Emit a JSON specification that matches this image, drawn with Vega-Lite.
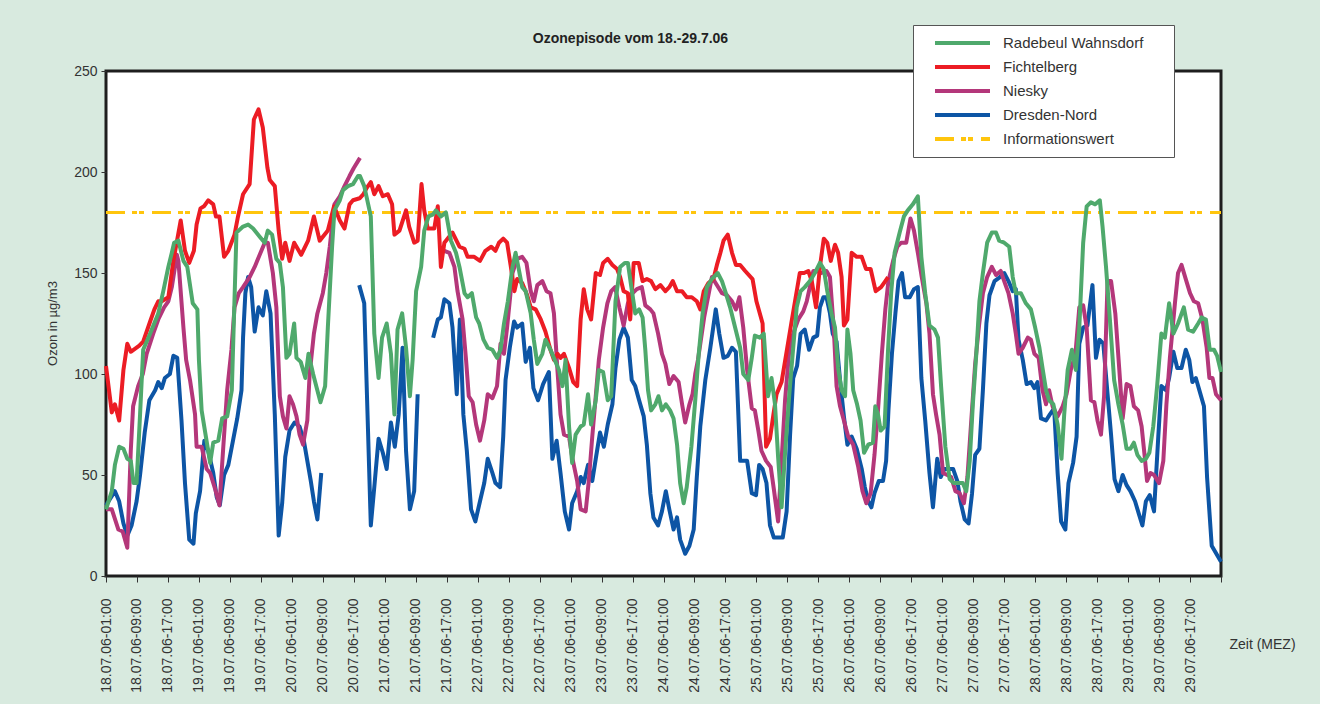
{
  "$schema": "https://vega.github.io/schema/vega-lite/v6.json",
  "width": 1115,
  "height": 505,
  "autosize": {"type": "none"},
  "padding": {"left": 106, "top": 71, "right": 99, "bottom": 128},
  "background": "#d8eadf",
  "config": {
    "font": "Liberation Sans",
    "view": {"fill": "white", "stroke": "#1e1e1e", "strokeWidth": 3}
  },
  "title": {
    "text": "Ozonepisode vom 18.-29.7.06",
    "frame": "group",
    "anchor": "middle",
    "dx": -33,
    "dy": 46,
    "offset": 25,
    "fontSize": 14,
    "fontWeight": "bold",
    "color": "#222222"
  },
  "datasets": {
    "infowert": [{"h": 0, "v": 180}, {"h": 288, "v": 180}],
    "radebeul": [
      {"h":0,"v":33},{"h":1.5,"v":42},{"h":2.3,"v":55},{"h":3.4,"v":64},{"h":4.5,"v":63},{"h":5.5,"v":58},{"h":6.4,"v":57},{"h":7.1,"v":46},{"h":7.9,"v":46},{"h":8.8,"v":80},{"h":9.6,"v":112},{"h":11.4,"v":120},{"h":13.5,"v":130},{"h":14.8,"v":141},{"h":16.1,"v":153},{"h":17,"v":160},{"h":17.6,"v":165},{"h":18.7,"v":166},{"h":20,"v":156},{"h":21,"v":153},{"h":22.4,"v":135},{"h":23.6,"v":132},{"h":24,"v":107},{"h":24.7,"v":82},{"h":25.8,"v":69},{"h":26.9,"v":56},{"h":27.7,"v":66},{"h":29,"v":67},{"h":30,"v":78},{"h":31.3,"v":79},{"h":32.5,"v":92},{"h":33.7,"v":170},{"h":35.4,"v":173},{"h":36.7,"v":174},{"h":38,"v":172},{"h":39.7,"v":168},{"h":41,"v":165},{"h":41.8,"v":171},{"h":42.9,"v":169},{"h":44,"v":157},{"h":44.9,"v":155},{"h":45.7,"v":143},{"h":46.6,"v":108},{"h":47.4,"v":110},{"h":48.6,"v":125},{"h":49.2,"v":108},{"h":50.3,"v":106},{"h":51.5,"v":98},{"h":52.3,"v":110},{"h":53.5,"v":100},{"h":54.3,"v":94},{"h":55.4,"v":86},{"h":56.6,"v":94},{"h":57.3,"v":123},{"h":58.4,"v":163},{"h":59,"v":181},{"h":60.4,"v":186},{"h":61.2,"v":191},{"h":62.5,"v":193},{"h":63.8,"v":194},{"h":65.1,"v":198},{"h":65.6,"v":198},{"h":66.7,"v":193},{"h":68.4,"v":178},{"h":69.3,"v":120},{"h":70.4,"v":98},{"h":71.3,"v":118},{"h":72.5,"v":125},{"h":73.6,"v":110},{"h":74.5,"v":80},{"h":75.3,"v":122},{"h":76.5,"v":130},{"h":77.5,"v":113},{"h":78.5,"v":89},{"h":79.2,"v":107},{"h":80.1,"v":141},{"h":81.4,"v":153},{"h":82.2,"v":171},{"h":83.3,"v":178},{"h":84.5,"v":179},{"h":85.2,"v":181},{"h":86.5,"v":178},{"h":87.8,"v":180},{"h":89.1,"v":166},{"h":90.4,"v":160},{"h":91.3,"v":153},{"h":92.6,"v":140},{"h":93.4,"v":138},{"h":94.5,"v":140},{"h":95.6,"v":128},{"h":96.4,"v":125},{"h":97.5,"v":117},{"h":98.6,"v":113},{"h":99.8,"v":112},{"h":101,"v":108},{"h":101.9,"v":112},{"h":102.8,"v":125},{"h":103.8,"v":136},{"h":105,"v":153},{"h":105.8,"v":160},{"h":106.7,"v":151},{"h":107.5,"v":143},{"h":108.4,"v":141},{"h":109.7,"v":130},{"h":110.5,"v":117},{"h":111.4,"v":105},{"h":112.7,"v":110},{"h":113.5,"v":117},{"h":114.8,"v":112},{"h":115.9,"v":107},{"h":117,"v":102},{"h":117.9,"v":94},{"h":118.7,"v":107},{"h":119.6,"v":74},{"h":120.4,"v":56},{"h":121.3,"v":70},{"h":122.6,"v":74},{"h":123.4,"v":75},{"h":124.5,"v":90},{"h":125.3,"v":75},{"h":126.5,"v":87},{"h":127.3,"v":102},{"h":128.4,"v":101},{"h":129.6,"v":87},{"h":130.5,"v":89},{"h":131.6,"v":136},{"h":132.8,"v":153},{"h":134,"v":155},{"h":134.8,"v":155},{"h":135.7,"v":143},{"h":136.7,"v":130},{"h":137.7,"v":132},{"h":138.6,"v":128},{"h":139.3,"v":112},{"h":140,"v":92},{"h":140.8,"v":82},{"h":141.9,"v":85},{"h":142.7,"v":89},{"h":143.6,"v":82},{"h":144.6,"v":85},{"h":145.7,"v":82},{"h":146.6,"v":78},{"h":147.5,"v":65},{"h":148.3,"v":46},{"h":149.2,"v":36},{"h":150,"v":44},{"h":151.2,"v":64},{"h":152.2,"v":87},{"h":153.1,"v":110},{"h":154.1,"v":130},{"h":155.2,"v":143},{"h":156.5,"v":147},{"h":158,"v":150},{"h":159.1,"v":146},{"h":160.1,"v":140},{"h":161.2,"v":133},{"h":162.5,"v":123},{"h":163.8,"v":113},{"h":164.6,"v":100},{"h":165.9,"v":97},{"h":166.8,"v":108},{"h":167.6,"v":119},{"h":168.9,"v":118},{"h":169.9,"v":120},{"h":171,"v":89},{"h":171.9,"v":98},{"h":172.8,"v":85},{"h":173.6,"v":59},{"h":174.5,"v":34},{"h":175.4,"v":61},{"h":176.5,"v":90},{"h":177.5,"v":113},{"h":178.4,"v":133},{"h":179.4,"v":141},{"h":180.5,"v":143},{"h":181.8,"v":146},{"h":183.1,"v":150},{"h":184.4,"v":155},{"h":185.4,"v":152},{"h":186.3,"v":141},{"h":187.4,"v":130},{"h":188.3,"v":123},{"h":189.1,"v":103},{"h":190,"v":92},{"h":190.9,"v":89},{"h":191.5,"v":122},{"h":192.3,"v":110},{"h":193,"v":92},{"h":194,"v":85},{"h":194.9,"v":77},{"h":195.8,"v":61},{"h":196.9,"v":65},{"h":198.1,"v":66},{"h":198.7,"v":84},{"h":199.4,"v":80},{"h":200.1,"v":72},{"h":201.1,"v":74},{"h":202,"v":112},{"h":202.8,"v":140},{"h":203.7,"v":160},{"h":205,"v":170},{"h":206.1,"v":178},{"h":207.1,"v":181},{"h":208.4,"v":184},{"h":209.7,"v":188},{"h":210.6,"v":158},{"h":211.6,"v":140},{"h":212.7,"v":124},{"h":214,"v":122},{"h":214.9,"v":118},{"h":215.7,"v":94},{"h":216.8,"v":64},{"h":217.9,"v":48},{"h":219,"v":46},{"h":220,"v":46},{"h":221.3,"v":46},{"h":222.2,"v":42},{"h":223.1,"v":57},{"h":223.9,"v":85},{"h":224.8,"v":110},{"h":225.6,"v":136},{"h":226.5,"v":150},{"h":227.6,"v":165},{"h":228.8,"v":170},{"h":229.9,"v":170},{"h":230.7,"v":166},{"h":232,"v":165},{"h":233.3,"v":163},{"h":234.2,"v":148},{"h":235,"v":140},{"h":236.3,"v":140},{"h":237.6,"v":135},{"h":238.9,"v":132},{"h":240,"v":123},{"h":241.1,"v":113},{"h":241.9,"v":103},{"h":242.8,"v":92},{"h":243.6,"v":87},{"h":244.7,"v":85},{"h":245.8,"v":75},{"h":246.8,"v":58},{"h":247.5,"v":80},{"h":248.4,"v":102},{"h":249.5,"v":112},{"h":250.5,"v":102},{"h":251.4,"v":123},{"h":252.4,"v":165},{"h":253.3,"v":183},{"h":254.4,"v":185},{"h":255.5,"v":184},{"h":256.7,"v":186},{"h":257.4,"v":173},{"h":258.3,"v":153},{"h":259.3,"v":127},{"h":260.4,"v":97},{"h":261.5,"v":85},{"h":262.6,"v":75},{"h":263.6,"v":63},{"h":264.6,"v":63},{"h":265.5,"v":66},{"h":266.4,"v":60},{"h":267.5,"v":57},{"h":268.6,"v":58},{"h":269.5,"v":61},{"h":270.5,"v":74},{"h":271.5,"v":94},{"h":272.6,"v":120},{"h":273.5,"v":118},{"h":274.6,"v":135},{"h":275.7,"v":120},{"h":276.9,"v":125},{"h":278.4,"v":133},{"h":279.5,"v":122},{"h":280.8,"v":121},{"h":282.1,"v":125},{"h":283,"v":128},{"h":284.1,"v":127},{"h":285.1,"v":112},{"h":286.2,"v":112},{"h":287,"v":109},{"h":288,"v":101}
    ],
    "fichtelberg": [
      {"h":0,"v":104},{"h":1.5,"v":81},{"h":2.3,"v":85},{"h":3.4,"v":77},{"h":4.5,"v":102},{"h":5.5,"v":115},{"h":6.4,"v":111},{"h":8.6,"v":114},{"h":9.6,"v":116},{"h":11.4,"v":126},{"h":12.5,"v":132},{"h":13.5,"v":136},{"h":14.4,"v":136},{"h":16.1,"v":138},{"h":17.4,"v":156},{"h":19.3,"v":176},{"h":20.4,"v":161},{"h":21.5,"v":155},{"h":22.7,"v":161},{"h":23.4,"v":174},{"h":24.4,"v":182},{"h":25.3,"v":183},{"h":26.4,"v":186},{"h":27.7,"v":184},{"h":28.4,"v":178},{"h":29.3,"v":178},{"h":30.5,"v":158},{"h":31.6,"v":161},{"h":33.2,"v":169},{"h":34.1,"v":178},{"h":35.4,"v":189},{"h":37.1,"v":194},{"h":38.2,"v":226},{"h":39.4,"v":231},{"h":40.5,"v":222},{"h":41.7,"v":202},{"h":42.3,"v":196},{"h":43.6,"v":193},{"h":44.6,"v":171},{"h":45.5,"v":157},{"h":46.3,"v":165},{"h":47.4,"v":156},{"h":48.6,"v":165},{"h":50.4,"v":159},{"h":52.2,"v":166},{"h":53.7,"v":178},{"h":55.2,"v":166},{"h":57.3,"v":171},{"h":58.9,"v":183},{"h":60.4,"v":176},{"h":61.6,"v":172},{"h":62.9,"v":184},{"h":63.8,"v":186},{"h":65.5,"v":187},{"h":66.5,"v":189},{"h":67.3,"v":192},{"h":68.4,"v":195},{"h":69.3,"v":189},{"h":70.4,"v":193},{"h":71.5,"v":188},{"h":72.8,"v":189},{"h":73.9,"v":184},{"h":74.5,"v":169},{"h":75.8,"v":171},{"h":77.5,"v":181},{"h":78.3,"v":173},{"h":79.6,"v":165},{"h":80.5,"v":166},{"h":81.5,"v":194},{"h":82.2,"v":181},{"h":83.1,"v":172},{"h":84.8,"v":172},{"h":85.7,"v":183},{"h":86.5,"v":153},{"h":87.4,"v":165},{"h":89.5,"v":170},{"h":91.3,"v":163},{"h":92.6,"v":162},{"h":93.4,"v":158},{"h":95.1,"v":158},{"h":96.6,"v":156},{"h":98,"v":161},{"h":99.5,"v":163},{"h":100.6,"v":161},{"h":101.5,"v":165},{"h":102.6,"v":167},{"h":103.6,"v":165},{"h":104.5,"v":154},{"h":105.5,"v":141},{"h":106.2,"v":147},{"h":107.5,"v":145},{"h":108.8,"v":139},{"h":109.7,"v":133},{"h":111,"v":132},{"h":112.3,"v":127},{"h":113.5,"v":121},{"h":114.8,"v":112},{"h":115.7,"v":107},{"h":116.6,"v":110},{"h":117.4,"v":108},{"h":118.3,"v":110},{"h":119.6,"v":103},{"h":120.7,"v":96},{"h":121.7,"v":94},{"h":122.6,"v":127},{"h":123.4,"v":142},{"h":124.3,"v":132},{"h":125.3,"v":127},{"h":126.5,"v":150},{"h":127.6,"v":149},{"h":128.4,"v":155},{"h":129.6,"v":157},{"h":130.8,"v":154},{"h":132,"v":152},{"h":132.8,"v":148},{"h":133.7,"v":141},{"h":134.8,"v":140},{"h":135.4,"v":127},{"h":136.3,"v":155},{"h":137.6,"v":155},{"h":138.6,"v":146},{"h":139.7,"v":147},{"h":140.8,"v":146},{"h":141.9,"v":142},{"h":143.2,"v":144},{"h":144.5,"v":141},{"h":145.5,"v":143},{"h":146.4,"v":146},{"h":147.5,"v":141},{"h":148.8,"v":141},{"h":150,"v":138},{"h":151.3,"v":138},{"h":152.6,"v":136},{"h":153.5,"v":132},{"h":154.4,"v":141},{"h":155.6,"v":145},{"h":156.9,"v":147},{"h":157.8,"v":154},{"h":158.7,"v":160},{"h":159.5,"v":166},{"h":160.6,"v":169},{"h":161.7,"v":160},{"h":162.7,"v":154},{"h":163.8,"v":154},{"h":165.1,"v":151},{"h":167,"v":147},{"h":168,"v":136},{"h":169.6,"v":125},{"h":170.5,"v":64},{"h":171.5,"v":68},{"h":172.4,"v":80},{"h":173.2,"v":90},{"h":174.5,"v":96},{"h":177,"v":125},{"h":179.2,"v":150},{"h":180.3,"v":150},{"h":181.4,"v":151},{"h":182.3,"v":146},{"h":183.4,"v":133},{"h":184.4,"v":153},{"h":185.4,"v":167},{"h":186.3,"v":165},{"h":187.2,"v":156},{"h":188.3,"v":164},{"h":189.1,"v":160},{"h":190,"v":148},{"h":190.6,"v":124},{"h":191.5,"v":127},{"h":192.6,"v":160},{"h":193.9,"v":158},{"h":195.2,"v":158},{"h":196.3,"v":152},{"h":197.5,"v":152},{"h":198.8,"v":141},{"h":200.2,"v":143},{"h":201.3,"v":146},{"h":202,"v":148}
    ],
    "niesky": [
      {"h":0,"v":33},{"h":1.5,"v":33},{"h":3.2,"v":23},{"h":4.3,"v":22},{"h":5.5,"v":14},{"h":6.4,"v":62},{"h":7,"v":84},{"h":8.3,"v":94},{"h":9.5,"v":100},{"h":10.5,"v":110},{"h":12.2,"v":120},{"h":13.5,"v":127},{"h":15,"v":133},{"h":16.1,"v":136},{"h":17,"v":143},{"h":18.3,"v":159},{"h":18.7,"v":156},{"h":20,"v":123},{"h":20.7,"v":107},{"h":21.7,"v":97},{"h":23,"v":80},{"h":23.4,"v":64},{"h":24.7,"v":64},{"h":26,"v":53},{"h":26.9,"v":51},{"h":28.2,"v":43},{"h":29.3,"v":35},{"h":30.3,"v":64},{"h":31.3,"v":92},{"h":32.4,"v":112},{"h":33.2,"v":133},{"h":34.3,"v":140},{"h":35.4,"v":143},{"h":37.1,"v":148},{"h":38.4,"v":153},{"h":39.7,"v":159},{"h":41,"v":165},{"h":41.8,"v":165},{"h":43.1,"v":150},{"h":44,"v":133},{"h":44.9,"v":89},{"h":45.7,"v":79},{"h":46.6,"v":73},{"h":47.4,"v":89},{"h":48.3,"v":85},{"h":49.2,"v":79},{"h":50,"v":70},{"h":50.9,"v":65},{"h":52,"v":77},{"h":52.6,"v":100},{"h":53.7,"v":120},{"h":54.6,"v":130},{"h":56,"v":140},{"h":56.9,"v":150},{"h":57.8,"v":163},{"h":59,"v":184},{"h":60.4,"v":188},{"h":61.6,"v":193},{"h":62.9,"v":198},{"h":64,"v":202},{"h":65.6,"v":207},
      {"h":66,"v":null},
      {"h":87.4,"v":161},{"h":88.7,"v":160},{"h":90,"v":153},{"h":90.8,"v":141},{"h":92.1,"v":127},{"h":93,"v":107},{"h":93.7,"v":89},{"h":94.7,"v":86},{"h":95.6,"v":75},{"h":96.6,"v":67},{"h":97.7,"v":77},{"h":98.6,"v":90},{"h":99.8,"v":88},{"h":101,"v":94},{"h":101.9,"v":115},{"h":102.8,"v":110},{"h":103.6,"v":123},{"h":105,"v":150},{"h":106.2,"v":157},{"h":107.5,"v":158},{"h":108.6,"v":155},{"h":109.7,"v":141},{"h":110.5,"v":136},{"h":111.4,"v":144},{"h":112.7,"v":146},{"h":113.8,"v":141},{"h":114.8,"v":140},{"h":115.7,"v":130},{"h":116.6,"v":102},{"h":117.4,"v":80},{"h":118.3,"v":70},{"h":119.6,"v":69},{"h":120.4,"v":59},{"h":121.7,"v":47},{"h":122.6,"v":33},{"h":123.9,"v":32},{"h":124.7,"v":47},{"h":125.6,"v":69},{"h":126.5,"v":89},{"h":127.3,"v":107},{"h":128.4,"v":123},{"h":129.5,"v":135},{"h":130.5,"v":141},{"h":131.5,"v":143},{"h":132.6,"v":133},{"h":133.7,"v":124},{"h":134.8,"v":135},{"h":136,"v":140},{"h":137.1,"v":142},{"h":138.4,"v":143},{"h":139.3,"v":134},{"h":140.6,"v":132},{"h":141.4,"v":130},{"h":142.6,"v":120},{"h":143.6,"v":110},{"h":144.5,"v":105},{"h":145.5,"v":95},{"h":146.6,"v":99},{"h":147.9,"v":96},{"h":148.8,"v":85},{"h":149.6,"v":76},{"h":150.7,"v":85},{"h":151.5,"v":90},{"h":152.2,"v":100},{"h":152.9,"v":107},{"h":154.5,"v":128},{"h":156.5,"v":148},{"h":159.1,"v":140},{"h":160.4,"v":139},{"h":161.7,"v":136},{"h":162.7,"v":132},{"h":163.6,"v":138},{"h":164.6,"v":123},{"h":165.6,"v":102},{"h":166.8,"v":83},{"h":167.6,"v":82},{"h":168.5,"v":72},{"h":169.3,"v":62},{"h":170.5,"v":57},{"h":171.7,"v":54},{"h":172.5,"v":43},{"h":173.6,"v":27},{"h":174.5,"v":57},{"h":175.4,"v":87},{"h":176.5,"v":112},{"h":177.5,"v":120},{"h":178.8,"v":127},{"h":180.1,"v":131},{"h":181,"v":136},{"h":181.8,"v":143},{"h":182.7,"v":151},{"h":183.7,"v":151},{"h":184.8,"v":150},{"h":186.1,"v":151},{"h":187,"v":148},{"h":188,"v":122},{"h":188.7,"v":94},{"h":189.6,"v":84},{"h":190.6,"v":77},{"h":191.7,"v":69},{"h":193,"v":65},{"h":194.3,"v":54},{"h":195.4,"v":42},{"h":196.4,"v":36},{"h":197.5,"v":41},{"h":198.5,"v":60},{"h":199.4,"v":82},{"h":200.4,"v":110},{"h":201.3,"v":132},{"h":202.1,"v":146},{"h":203.3,"v":156},{"h":204.4,"v":163},{"h":205.4,"v":165},{"h":206.7,"v":165},{"h":207.8,"v":177},{"h":208.7,"v":171},{"h":209.7,"v":160},{"h":210.7,"v":148},{"h":211.9,"v":135},{"h":212.7,"v":120},{"h":213.6,"v":90},{"h":214.4,"v":80},{"h":215.3,"v":70},{"h":216.2,"v":51},{"h":217.3,"v":50},{"h":218.3,"v":49},{"h":219.4,"v":42},{"h":220.5,"v":41},{"h":221.6,"v":36},{"h":222.5,"v":49},{"h":223.5,"v":77},{"h":224.5,"v":105},{"h":225.5,"v":124},{"h":226.5,"v":140},{"h":227.6,"v":148},{"h":228.8,"v":153},{"h":229.9,"v":149},{"h":231.1,"v":151},{"h":232,"v":146},{"h":233.1,"v":140},{"h":234.2,"v":130},{"h":235,"v":120},{"h":235.7,"v":110},{"h":236.8,"v":113},{"h":238.1,"v":118},{"h":238.9,"v":117},{"h":239.8,"v":110},{"h":240.9,"v":108},{"h":241.9,"v":92},{"h":242.8,"v":85},{"h":243.6,"v":92},{"h":244.5,"v":84},{"h":245.8,"v":79},{"h":247.1,"v":84},{"h":248.1,"v":90},{"h":249.2,"v":102},{"h":250.4,"v":110},{"h":251.4,"v":133},{"h":252.4,"v":134},{"h":253.3,"v":123},{"h":254.4,"v":87},{"h":255.3,"v":86},{"h":256.1,"v":77},{"h":257,"v":70},{"h":257.8,"v":89},{"h":258.7,"v":146},{"h":259.6,"v":146},{"h":260.7,"v":130},{"h":261.7,"v":103},{"h":262.6,"v":78},{"h":263.6,"v":95},{"h":264.6,"v":94},{"h":265.5,"v":84},{"h":266.6,"v":82},{"h":267.5,"v":74},{"h":268.3,"v":59},{"h":268.9,"v":47},{"h":269.8,"v":51},{"h":270.7,"v":50},{"h":272,"v":46},{"h":273.1,"v":57},{"h":273.9,"v":85},{"h":274.8,"v":108},{"h":276.1,"v":135},{"h":276.9,"v":150},{"h":277.8,"v":154},{"h":278.9,"v":147},{"h":280,"v":140},{"h":281,"v":136},{"h":282.1,"v":135},{"h":283.2,"v":127},{"h":284.3,"v":113},{"h":285,"v":98},{"h":285.8,"v":98},{"h":286.7,"v":90},{"h":288,"v":87}
    ],
    "dresden": [
      {"h":0,"v":35},{"h":1,"v":38},{"h":2.3,"v":42},{"h":3.4,"v":37},{"h":4.5,"v":26},{"h":5.5,"v":20},{"h":6.6,"v":25},{"h":7.9,"v":37},{"h":8.8,"v":50},{"h":10,"v":71},{"h":11.2,"v":87},{"h":12.7,"v":92},{"h":13.5,"v":96},{"h":14.4,"v":93},{"h":15.2,"v":98},{"h":16.5,"v":100},{"h":17.4,"v":109},{"h":18.4,"v":108},{"h":19.5,"v":77},{"h":20.4,"v":46},{"h":21.5,"v":18},{"h":22.6,"v":16},{"h":23.2,"v":31},{"h":24.3,"v":42},{"h":25.4,"v":67},{"h":26.4,"v":62},{"h":27.7,"v":51},{"h":28.6,"v":39},{"h":29.4,"v":35},{"h":30.5,"v":50},{"h":31.6,"v":55},{"h":32.8,"v":67},{"h":33.9,"v":78},{"h":35,"v":92},{"h":35.4,"v":118},{"h":36,"v":140},{"h":36.7,"v":148},{"h":37.5,"v":143},{"h":38.4,"v":121},{"h":39.4,"v":133},{"h":40.5,"v":129},{"h":41.4,"v":141},{"h":42.5,"v":130},{"h":43.6,"v":80},{"h":44.6,"v":20},{"h":45.5,"v":36},{"h":46.3,"v":59},{"h":47.4,"v":72},{"h":48.7,"v":76},{"h":50,"v":74},{"h":51.1,"v":67},{"h":52,"v":57},{"h":52.9,"v":47},{"h":53.7,"v":37},{"h":54.6,"v":28},{"h":55.6,"v":51},
      {"h":56.5,"v":null},
      {"h":65.4,"v":144},{"h":66.7,"v":135},{"h":67.6,"v":77},{"h":68.4,"v":25},{"h":69.3,"v":44},{"h":70.4,"v":68},{"h":71.5,"v":61},{"h":72.5,"v":53},{"h":73.6,"v":76},{"h":74.6,"v":64},{"h":75.6,"v":80},{"h":76.6,"v":113},{"h":77.5,"v":62},{"h":78.5,"v":33},{"h":79.6,"v":42},{"h":80.5,"v":90},
      {"h":82.5,"v":null},
      {"h":84.5,"v":118},{"h":85.7,"v":127},{"h":86.5,"v":128},{"h":87.4,"v":137},{"h":88.7,"v":135},{"h":89.5,"v":123},{"h":90.6,"v":90},{"h":91.4,"v":127},{"h":92.3,"v":80},{"h":93.2,"v":62},{"h":94.3,"v":33},{"h":95.4,"v":27},{"h":96.6,"v":37},{"h":97.7,"v":46},{"h":98.6,"v":58},{"h":99.8,"v":51},{"h":100.6,"v":46},{"h":101.8,"v":44},{"h":102.6,"v":69},{"h":103.2,"v":97},{"h":104.3,"v":113},{"h":105.4,"v":126},{"h":106.2,"v":123},{"h":107.5,"v":125},{"h":108.4,"v":106},{"h":109.5,"v":113},{"h":110.4,"v":93},{"h":111.6,"v":87},{"h":112.9,"v":95},{"h":114.4,"v":101},{"h":115.3,"v":58},{"h":116.4,"v":67},{"h":117.4,"v":51},{"h":118.5,"v":32},{"h":119.6,"v":23},{"h":120.4,"v":36},{"h":121.7,"v":42},{"h":122.6,"v":49},{"h":123.4,"v":46},{"h":124.5,"v":55},{"h":125.6,"v":47},{"h":126.5,"v":58},{"h":127.6,"v":71},{"h":128.6,"v":64},{"h":129.6,"v":75},{"h":130.8,"v":85},{"h":131.6,"v":103},{"h":132.6,"v":117},{"h":133.7,"v":123},{"h":134.8,"v":118},{"h":135.8,"v":97},{"h":136.7,"v":94},{"h":137.7,"v":87},{"h":138.9,"v":79},{"h":139.7,"v":65},{"h":140.6,"v":41},{"h":141.4,"v":29},{"h":142.6,"v":25},{"h":143.6,"v":32},{"h":144.6,"v":42},{"h":145.5,"v":33},{"h":146.6,"v":23},{"h":147.5,"v":29},{"h":148.3,"v":18},{"h":149.6,"v":11},{"h":150.7,"v":15},{"h":151.8,"v":23},{"h":152.6,"v":49},{"h":153.5,"v":74},{"h":154.8,"v":97},{"h":156.1,"v":113},{"h":157.5,"v":132},{"h":158.4,"v":120},{"h":159.5,"v":108},{"h":160.6,"v":109},{"h":161.7,"v":113},{"h":162.7,"v":111},{"h":163.8,"v":57},{"h":165.6,"v":57},{"h":166.8,"v":41},{"h":167.9,"v":40},{"h":168.7,"v":55},{"h":169.6,"v":53},{"h":170.6,"v":46},{"h":171.5,"v":25},{"h":172.5,"v":19},{"h":174.8,"v":19},{"h":175.8,"v":32},{"h":176.7,"v":70},{"h":177.5,"v":98},{"h":178.5,"v":104},{"h":179.4,"v":120},{"h":180.5,"v":122},{"h":181.6,"v":112},{"h":182.7,"v":118},{"h":183.7,"v":119},{"h":184.4,"v":133},{"h":185.3,"v":138},{"h":186.1,"v":138},{"h":187,"v":130},{"h":187.7,"v":120},{"h":188.7,"v":116},{"h":189.6,"v":97},{"h":190.6,"v":79},{"h":191.5,"v":65},{"h":192.6,"v":69},{"h":193.9,"v":63},{"h":195.2,"v":53},{"h":196,"v":44},{"h":196.9,"v":37},{"h":197.7,"v":34},{"h":198.5,"v":41},{"h":199.6,"v":47},{"h":200.7,"v":47},{"h":201.5,"v":57},{"h":202.1,"v":82},{"h":203,"v":110},{"h":203.9,"v":130},{"h":204.7,"v":146},{"h":205.6,"v":150},{"h":206.4,"v":138},{"h":207.6,"v":138},{"h":208.7,"v":142},{"h":209.7,"v":143},{"h":210.6,"v":98},{"h":211.6,"v":77},{"h":212.7,"v":51},{"h":213.6,"v":34},{"h":214.7,"v":58},{"h":215.6,"v":49},{"h":216.6,"v":53},{"h":218.8,"v":53},{"h":219.9,"v":47},{"h":220.7,"v":37},{"h":221.8,"v":28},{"h":222.8,"v":26},{"h":223.7,"v":41},{"h":224.5,"v":60},{"h":225.6,"v":63},{"h":226.5,"v":92},{"h":227.4,"v":125},{"h":228.2,"v":139},{"h":229.5,"v":146},{"h":230.9,"v":148},{"h":232,"v":150},{"h":233.1,"v":146},{"h":234.2,"v":141},{"h":235,"v":142},{"h":235.7,"v":117},{"h":236.8,"v":107},{"h":237.8,"v":95},{"h":238.9,"v":96},{"h":239.8,"v":93},{"h":240.6,"v":96},{"h":241.5,"v":78},{"h":242.8,"v":77},{"h":243.8,"v":80},{"h":244.9,"v":83},{"h":245.8,"v":51},{"h":246.7,"v":27},{"h":247.8,"v":23},{"h":248.6,"v":46},{"h":249.8,"v":56},{"h":250.7,"v":69},{"h":251.4,"v":115},{"h":252.4,"v":123},{"h":253.5,"v":124},{"h":254.8,"v":144},{"h":255.7,"v":108},{"h":256.6,"v":117},{"h":257.6,"v":115},{"h":258.7,"v":90},{"h":259.6,"v":70},{"h":260.5,"v":48},{"h":261.5,"v":42},{"h":262.6,"v":50},{"h":263.6,"v":45},{"h":264.6,"v":42},{"h":265.8,"v":37},{"h":266.9,"v":30},{"h":267.7,"v":25},{"h":268.6,"v":37},{"h":269.6,"v":40},{"h":270.7,"v":32},{"h":271.8,"v":69},{"h":272.6,"v":94},{"h":273.8,"v":92},{"h":274.6,"v":98},{"h":275.7,"v":111},{"h":276.7,"v":103},{"h":277.8,"v":103},{"h":278.9,"v":112},{"h":279.8,"v":107},{"h":280.6,"v":96},{"h":281.5,"v":98},{"h":282.4,"v":92},{"h":283.6,"v":84},{"h":284.4,"v":49},{"h":285.6,"v":15},{"h":286.8,"v":11},{"h":288,"v":7}
    ]
  },
  "encoding": {
    "x": {
      "field": "h",
      "type": "quantitative",
      "scale": {"domain": [0, 288], "nice": false, "zero": false},
      "axis": {
        "values": [0, 8, 16, 24, 32, 40, 48, 56, 64, 72, 80, 88, 96, 104, 112, 120, 128, 136, 144, 152, 160, 168, 176, 184, 192, 200, 208, 216, 224, 232, 240, 248, 256, 264, 272, 280, 288],
        "labelExpr": "datum.value >= 288 ? '' : timeFormat(datetime(2006, 6, 18, 1 + datum.value), '%d.%m.%y-%H:%M')",
        "labelAngle": -90,
        "labelFontSize": 14,
        "labelColor": "#333333",
        "labelPadding": 16,
        "labelOverlap": false,
        "labelBound": false,
        "labelFlush": false,
        "grid": false,
        "domain": false,
        "tickSize": 6,
        "tickColor": "#333333",
        "title": "Zeit (MEZ)",
        "titleFontSize": 14,
        "titleFontWeight": "normal",
        "titleColor": "#333333",
        "titleAngle": 0,
        "titleAlign": "center",
        "titleBaseline": "middle",
        "titleX": 1156,
        "titleY": 68
      }
    },
    "y": {
      "field": "v",
      "type": "quantitative",
      "scale": {"domain": [0, 250], "nice": false},
      "axis": {
        "values": [0, 50, 100, 150, 200, 250],
        "labelFontSize": 14,
        "labelColor": "#333333",
        "labelPadding": 4,
        "grid": false,
        "domain": false,
        "tickSize": 5,
        "tickColor": "#333333",
        "title": "Ozon in µg/m3",
        "titleFontSize": 13,
        "titleFontWeight": "normal",
        "titleColor": "#333333",
        "titleAngle": -90,
        "titleAlign": "center",
        "titleBaseline": "middle",
        "titleX": -54,
        "titleY": 252
      }
    }
  },
  "layer": [
    {
      "data": {"name": "infowert"},
      "mark": {"type": "line", "strokeWidth": 3, "strokeDash": [19, 7, 5, 2, 5, 8]},
      "encoding": {
        "color": {
          "datum": "Informationswert",
          "type": "nominal",
          "scale": {
            "domain": ["Radebeul Wahnsdorf", "Fichtelberg", "Niesky", "Dresden-Nord", "Informationswert"],
            "range": ["#4fa96c", "#ec1c24", "#b4377a", "#0d55a5", "#ffc50d"]
          },
          "legend": {
            "title": "\u00a0",
            "titleOrient": "right",
            "titlePadding": 23,
            "titleFontSize": 8,
            "orient": "none",
            "legendX": 807,
            "legendY": -46,
            "symbolType": "stroke",
            "symbolSize": 3025,
            "symbolStrokeWidth": 4,
            "clipHeight": 20,
            "rowPadding": 4,
            "padding": 8,
            "symbolOffset": 12,
            "labelOffset": 11,
            "labelFontSize": 15,
            "labelColor": "#333333",
            "labelLimit": 400,
            "fillColor": "white",
            "strokeColor": "#555555",
            "encode": {
              "symbols": {
                "update": {
                  "strokeDash": {"signal": "datum.value === 'Informationswert' ? [19, 7, 5, 2, 5, 8] : null"},
                  "strokeCap": {"value": "butt"}
                }
              }
            }
          }
        }
      }
    },
    {
      "data": {"name": "dresden"},
      "mark": {"type": "line", "strokeWidth": 4, "strokeJoin": "round", "invalid": "break-paths-show-domains"},
      "encoding": {"color": {"datum": "Dresden-Nord", "type": "nominal"}}
    },
    {
      "data": {"name": "niesky"},
      "mark": {"type": "line", "strokeWidth": 4, "strokeJoin": "round", "invalid": "break-paths-show-domains"},
      "encoding": {"color": {"datum": "Niesky", "type": "nominal"}}
    },
    {
      "data": {"name": "fichtelberg"},
      "mark": {"type": "line", "strokeWidth": 4, "strokeJoin": "round"},
      "encoding": {"color": {"datum": "Fichtelberg", "type": "nominal"}}
    },
    {
      "data": {"name": "radebeul"},
      "mark": {"type": "line", "strokeWidth": 4, "strokeJoin": "round"},
      "encoding": {"color": {"datum": "Radebeul Wahnsdorf", "type": "nominal"}}
    }
  ]
}
